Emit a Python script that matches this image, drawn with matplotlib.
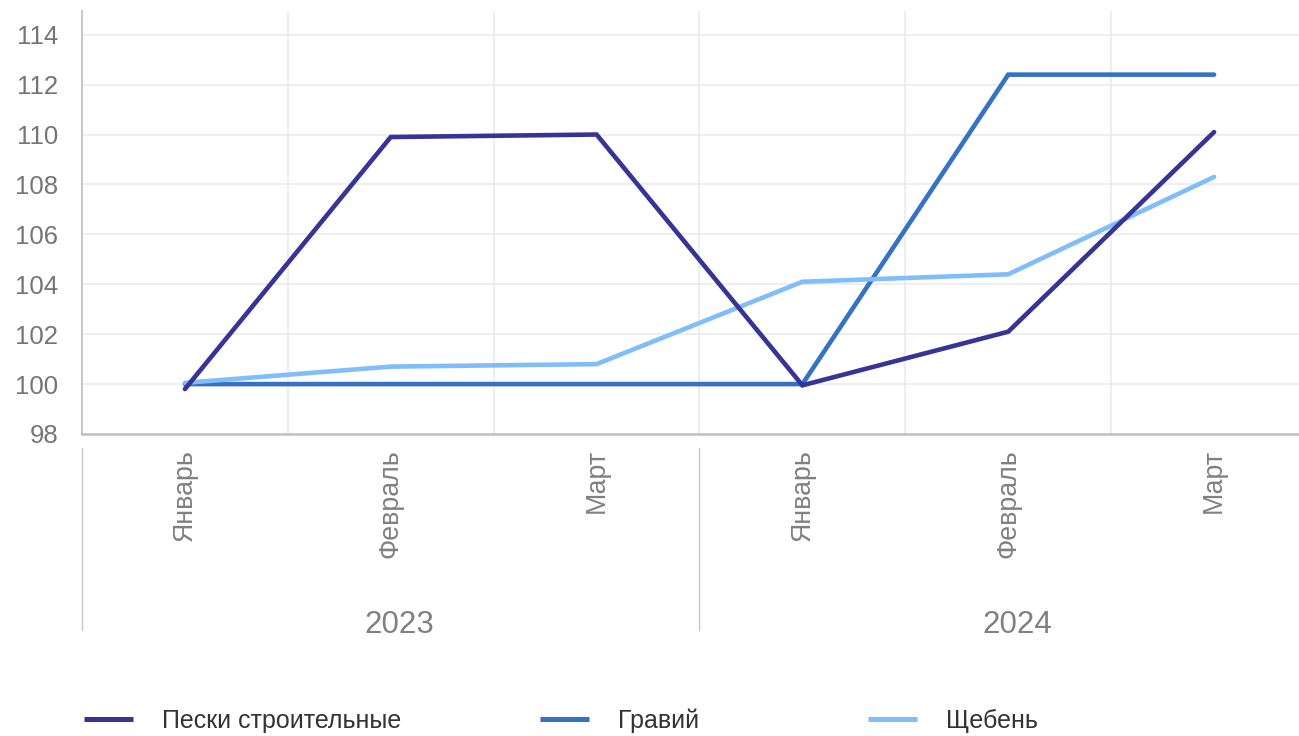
import matplotlib
matplotlib.use("Agg")
import matplotlib.pyplot as plt
from matplotlib.lines import Line2D
import matplotlib.transforms as mtransforms

months = ["Январь", "Февраль", "Март", "Январь", "Февраль", "Март"]
years = ["2023", "2024"]
series_names = ["Пески строительные", "Гравий", "Щебень"]
peski = [99.8, 109.9, 110.0, 99.95, 102.1, 110.1]
gravii = [100.0, 100.0, 100.0, 100.0, 112.4, 112.4]
shcheben = [100.05, 100.7, 100.8, 104.1, 104.4, 108.3]
yticks = [98, 100, 102, 104, 106, 108, 110, 112, 114]
colors = ["#373497", "#3572C6", "#7FBDFB"]

plt.rcParams['font.family'] = ['Liberation Sans', 'DejaVu Sans']

W, H = 1299, 736
fig = plt.figure(figsize=(W / 100, H / 100), dpi=100)
left, right, top, bottom = 82, 1317, 11, 434
ax = fig.add_axes([left / W, (H - bottom) / H, (right - left) / W, (bottom - top) / H])

x = list(range(len(months)))
data = [peski, gravii, shcheben]
for i in [1, 2, 0]:
    ax.plot(x, data[i], color=colors[i], lw=3.3, solid_capstyle='round',
            solid_joinstyle='miter', zorder=3 + (i == 0))

ax.set_xlim(-0.5, len(months) - 0.5)
ax.set_ylim(98, 114.95)
ax.set_yticks(yticks)
ax.set_yticklabels([str(v) for v in yticks], fontsize=18.5, color="#757575")
ax.tick_params(axis='y', length=0, pad=17)
ax.set_xticks([])
ax.set_xticks([i - 0.5 for i in range(1, len(months))], minor=True)
ax.tick_params(axis='x', which='minor', length=0)
ax.grid(True, axis='y', color="#ebebeb", lw=1.2)
ax.grid(True, axis='x', which='minor', color="#ebebeb", lw=1.2)
ax.set_axisbelow(True)
for s in ['top', 'right']:
    ax.spines[s].set_visible(False)
ax.spines['left'].set_color("#c8c8c8")
ax.spines['left'].set_linewidth(1.5)
ax.spines['bottom'].set_color("#c0c0c0")
ax.spines['bottom'].set_linewidth(1.8)

# month labels (rotated)
trans_m = mtransforms.blended_transform_factory(ax.transData, fig.transFigure)
for i, m in enumerate(months):
    ax.text(i, (H - 449) / H, m, rotation=90, ha='center', va='top',
            fontsize=19.3, color="#808080", transform=trans_m, clip_on=False)

# group separators and year labels
for gx in [-0.5, 2.5]:
    ax.add_line(Line2D([gx, gx], [(H - 448) / H, (H - 630) / H], transform=trans_m,
                       color="#c8c8c8", lw=1.0, clip_on=False))
offset = mtransforms.ScaledTranslation(9 / 100, 0, fig.dpi_scale_trans)
for yi, yr in enumerate(years):
    ax.text(1 + 3 * yi, (H - 625) / H, yr, ha='center', va='center', fontsize=22.5,
            color="#808080", transform=trans_m + offset, clip_on=False)

# legend
leg_x = [84, 540, 868]
for i, name in enumerate(series_names):
    x0 = leg_x[i]
    fig.add_artist(Line2D([x0 / W, (x0 + 49) / W], [(H - 719) / H] * 2,
                          transform=fig.transFigure, color=colors[i], lw=3.6,
                          solid_capstyle='butt'))
    fig.text((x0 + 78) / W, (H - 721) / H, name, ha='left', va='center',
             fontsize=18, color="#333333")

fig.savefig("out.png", dpi=100)
